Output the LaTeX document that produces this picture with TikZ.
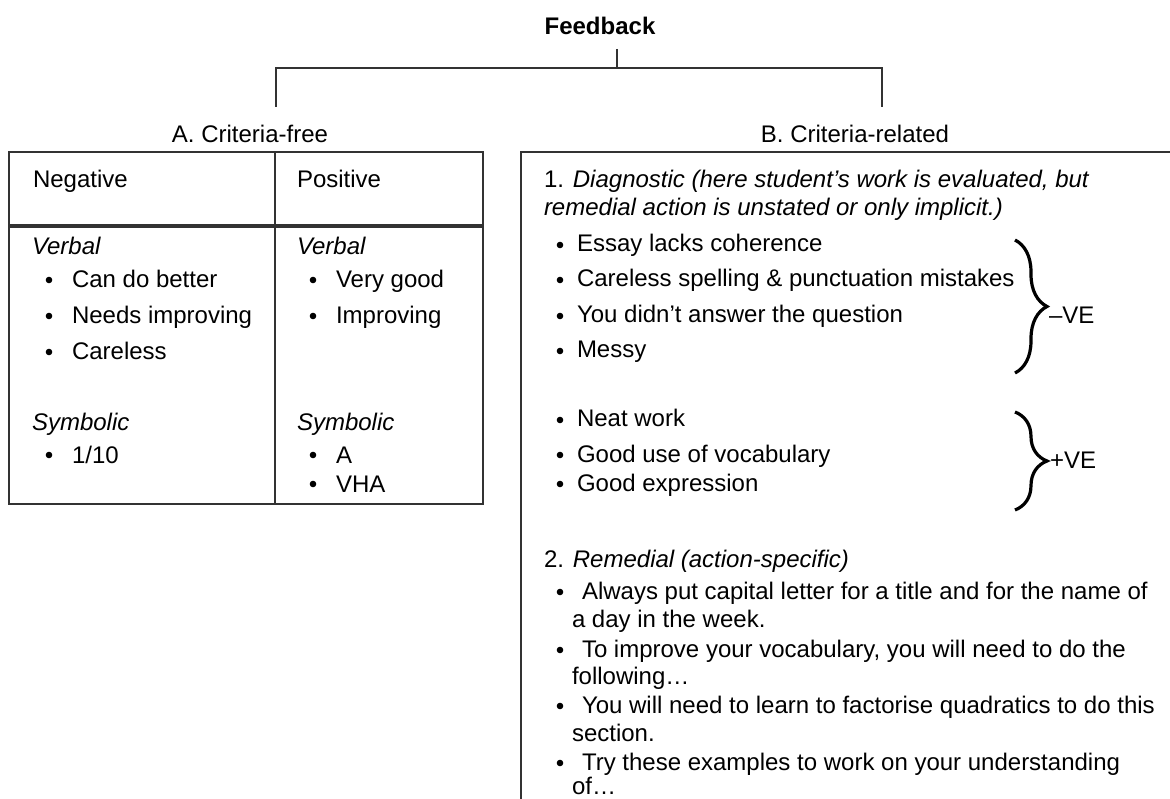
\documentclass[tikz,border=0pt]{standalone}
\usepackage{fontspec}
\setmainfont{Liberation Sans}
\usetikzlibrary{decorations.pathreplacing}
\definecolor{linegray}{RGB}{50,50,50}
\begin{document}
\begin{tikzpicture}[x=1pt,y=-1pt,
  txt/.style={anchor=base west,inner sep=0pt,outer sep=0pt,font=\fontsize{24}{28}\selectfont},
  itxt/.style={txt,font=\fontsize{24}{28}\selectfont\itshape},
  ctxt/.style={anchor=base,inner sep=0pt,outer sep=0pt,font=\fontsize{24}{28}\selectfont},
  bul/.style={circle,fill=black,draw=none,inner sep=0pt,minimum size=6.6pt},
  rule/.style={draw=linegray,line width=1.5pt},
  heavy/.style={draw=linegray,line width=3.5pt},
  bracket/.style={draw=black,line width=3.2pt,decorate,decoration={brace,amplitude=32pt,aspect=0.5}},
]
\useasboundingbox (0,0) rectangle (1170,799);

% ---- tree heading ----
\node[ctxt,font=\fontsize{24}{28}\selectfont\bfseries] (fb) at (600,35) {Feedback};
\coordinate (stemtop) at (617,49);
\coordinate (fork) at (617,68);
\coordinate (legA) at (276,107);
\coordinate (legB) at (882,107);
\draw[rule] (stemtop) -- (fork);
\draw[rule,line join=miter] (legA) |- (fork) -| (legB);

\node[ctxt] (la) at (250,143) {A. Criteria-free};
\node[ctxt] (lb) at (855,143) {B. Criteria-related};

% ---- criteria-free table ----
\draw[rule] (9,152) rectangle (483,504);
\draw[rule] (275,152) -- (275,504);
\draw[heavy] (9,226) -- (483,226);

\node[txt] (neg) at (33,188) {Negative};
\node[txt] (pos) at (297,188) {Positive};

\node[itxt] (verbL) at (32,255) {Verbal};
\node[bul] (bl1) at (49,280) {};
\node[txt] (cdb) at (72,288) {Can do better};
\node[bul] (bl2) at (49,316) {};
\node[txt] (ni) at (72,324) {Needs improving};
\node[bul] (bl3) at (49,352) {};
\node[txt] (care) at (72,360) {Careless};
\node[itxt] (symL) at (32,430) {Symbolic};
\node[bul] (bl4) at (49,455) {};
\node[txt] (tenth) at (72,463) {1/10};

\node[itxt] (verbR) at (297,255) {Verbal};
\node[bul] (br1) at (313,280) {};
\node[txt] (vg) at (336,288) {Very good};
\node[bul] (br2) at (313,316) {};
\node[txt] (impr) at (336,324) {Improving};
\node[itxt] (symR) at (297,430) {Symbolic};
\node[bul] (br3) at (313,455) {};
\node[txt] (gA) at (336,463) {A};
\node[bul] (br4) at (313,484) {};
\node[txt] (vha) at (336,492) {VHA};

% ---- criteria-related panel ----
\draw[rule,line join=miter] (1172,152) -- (521,152) -- (521,802);

\node[txt] (diag1) at (544,188) {1. \textit{Diagnostic (here student’s work is evaluated, but}};
\node[itxt] (diag2) at (544,216) {remedial action is unstated or only implicit.)};

\node[bul] (d1) at (560,245) {};
\node[txt] (essay) at (577,252) {Essay lacks coherence};
\node[bul] (d2) at (560,280) {};
\node[txt] (spell) at (577,287) {Careless spelling \& punctuation mistakes};
\node[bul] (d3) at (560,316) {};
\node[txt] (quest) at (577,323) {You didn’t answer the question};
\node[bul] (d4) at (560,351) {};
\node[txt] (messy) at (577,358) {Messy};

\node[bul] (d5) at (560,420) {};
\node[txt] (neat) at (577,427) {Neat work};
\node[bul] (d6) at (560,455) {};
\node[txt] (vocab) at (577,462) {Good use of vocabulary};
\node[bul] (d7) at (560,484) {};
\node[txt] (expr) at (577,491) {Good expression};

\coordinate (negtop) at (1015,240);
\coordinate (negbot) at (1015,373);
\coordinate (postop) at (1015,412);
\coordinate (posbot) at (1015,510);
\draw[bracket] (negtop) -- (negbot);
\draw[bracket] (postop) -- (posbot);
\node[txt] (negve) at (1049,324) {–VE};
\node[txt] (posve) at (1050,468) {+VE};

\node[txt] (rem) at (544,567) {2. \textit{Remedial (action-specific)}};
\node[bul] (r1) at (560,592) {};
\node[txt] (rem1a) at (582,599) {Always put capital letter for a title and for the name of};
\node[txt] (rem1b) at (572,627) {a day in the week.};
\node[bul] (r2) at (560,650) {};
\node[txt] (rem2a) at (582,657) {To improve your vocabulary, you will need to do the};
\node[txt] (rem2b) at (572,684) {following…};
\node[bul] (r3) at (560,706) {};
\node[txt] (rem3a) at (582,713) {You will need to learn to factorise quadratics to do this};
\node[txt] (rem3b) at (572,741) {section.};
\node[bul] (r4) at (560,763) {};
\node[txt] (rem4a) at (582,770) {Try these examples to work on your understanding};
\node[txt] (rem4b) at (572,794) {of…};
\end{tikzpicture}
\end{document}
